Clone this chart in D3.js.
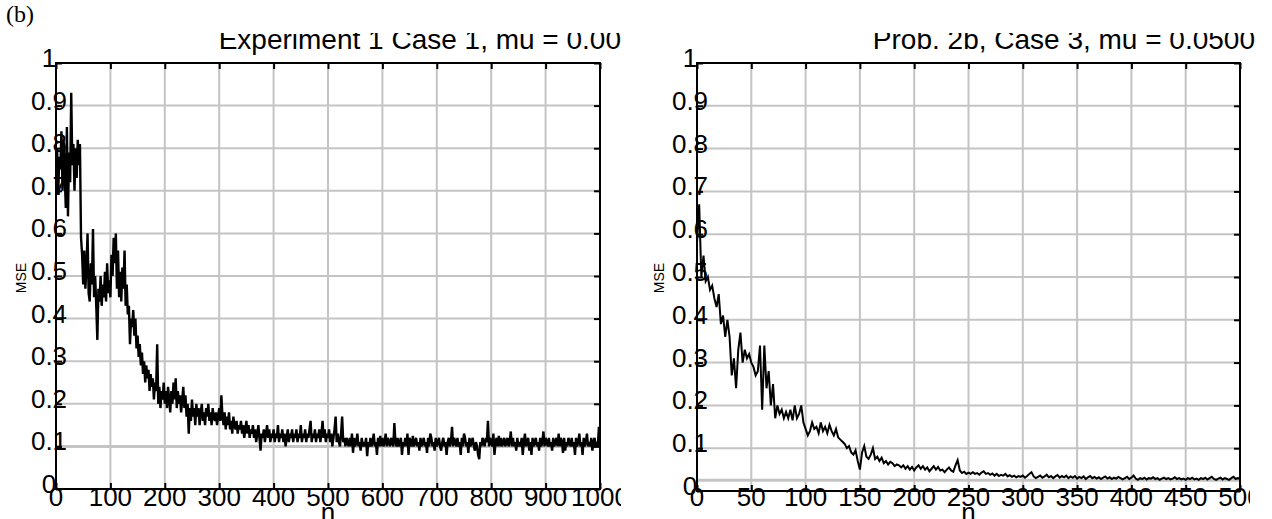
<!DOCTYPE html>
<html><head><meta charset="utf-8">
<script src="https://cdn.jsdelivr.net/npm/d3@7"></script>
<style>
html,body{margin:0;padding:0;background:#fff;}
svg{display:block;}
text{font-family:"Liberation Sans",Arial,Helvetica,sans-serif;fill:#000;}
</style></head><body>
<svg id="chart" width="1272" height="519"></svg>
<script>
// ---- learning-curve data (MSE per iteration n) ----
// Experiment 1, sampled every 2 iterations, n = 0..1000
const leftStep = 2;
const leftMSE = [
0.72,0.80,0.69,0.78,0.75,0.84,0.70,0.82,0.74,0.66,
0.85,0.64,0.79,0.72,0.93,0.76,0.81,0.70,0.80,0.73,
0.82,0.76,0.81,0.59,0.55,0.48,0.56,0.47,0.52,0.60,
0.46,0.44,0.53,0.48,0.61,0.45,0.50,0.43,0.35,0.47,
0.44,0.50,0.43,0.48,0.45,0.51,0.44,0.53,0.46,0.49,
0.45,0.55,0.50,0.59,0.53,0.60,0.47,0.56,0.45,0.51,
0.44,0.52,0.47,0.56,0.43,0.48,0.41,0.43,0.34,0.40,
0.38,0.42,0.36,0.40,0.33,0.36,0.31,0.34,0.29,0.32,
0.27,0.30,0.25,0.29,0.26,0.28,0.23,0.27,0.24,0.26,
0.21,0.25,0.23,0.34,0.20,0.24,0.19,0.23,0.21,0.25,
0.20,0.23,0.19,0.24,0.21,0.18,0.23,0.20,0.25,0.21,
0.26,0.19,0.23,0.20,0.22,0.18,0.21,0.24,0.19,0.22,
0.17,0.20,0.13,0.19,0.16,0.21,0.17,0.19,0.15,0.20,
0.17,0.19,0.15,0.18,0.20,0.16,0.18,0.15,0.19,0.17,
0.20,0.16,0.18,0.15,0.19,0.17,0.16,0.18,0.15,0.17,
0.19,0.16,0.22,0.17,0.15,0.18,0.14,0.17,0.15,0.18,
0.14,0.16,0.13,0.17,0.15,0.14,0.16,0.13,0.15,0.14,
0.16,0.13,0.15,0.12,0.14,0.16,0.13,0.15,0.12,0.14,
0.13,0.15,0.12,0.14,0.11,0.13,0.15,0.12,0.09,0.13,
0.12,0.14,0.11,0.13,0.15,0.12,0.14,0.11,0.13,0.12,
0.14,0.11,0.13,0.12,0.15,0.11,0.13,0.12,0.14,0.11,
0.13,0.10,0.12,0.14,0.11,0.13,0.12,0.14,0.11,0.13,
0.12,0.14,0.11,0.13,0.12,0.15,0.11,0.13,0.12,0.14,
0.11,0.13,0.12,0.14,0.16,0.11,0.13,0.12,0.14,0.11,
0.13,0.12,0.14,0.11,0.13,0.16,0.12,0.14,0.11,0.13,
0.12,0.14,0.11,0.13,0.10,0.12,0.14,0.17,0.11,0.13,
0.11,0.10,0.13,0.17,0.11,0.12,0.10,0.12,0.11,0.10,
0.12,0.10,0.13,0.085,0.12,0.10,0.11,0.13,0.10,0.11,
0.09,0.12,0.10,0.11,0.10,0.12,0.077,0.11,0.10,0.12,
0.10,0.11,0.13,0.10,0.11,0.08,0.12,0.10,0.125,0.10,
0.12,0.10,0.11,0.13,0.10,0.12,0.11,0.10,0.12,0.11,
0.10,0.155,0.11,0.10,0.12,0.10,0.11,0.12,0.08,0.11,
0.10,0.12,0.10,0.13,0.08,0.12,0.11,0.10,0.125,0.10,
0.11,0.12,0.10,0.11,0.09,0.12,0.10,0.11,0.12,0.10,
0.11,0.085,0.12,0.10,0.13,0.12,0.10,0.11,0.09,0.12,
0.10,0.11,0.12,0.10,0.09,0.11,0.12,0.10,0.11,0.08,
0.11,0.12,0.10,0.11,0.146,0.10,0.12,0.11,0.10,0.12,
0.10,0.11,0.08,0.12,0.10,0.13,0.12,0.10,0.11,0.085,
0.12,0.10,0.11,0.12,0.10,0.09,0.11,0.10,0.08,0.07,
0.11,0.10,0.12,0.11,0.10,0.12,0.11,0.16,0.10,0.12,
0.11,0.10,0.13,0.08,0.11,0.12,0.10,0.125,0.10,0.12,
0.10,0.11,0.12,0.10,0.11,0.12,0.10,0.11,0.135,0.10,
0.12,0.10,0.11,0.09,0.12,0.10,0.11,0.10,0.12,0.08,
0.11,0.13,0.10,0.11,0.12,0.09,0.11,0.08,0.12,0.10,
0.11,0.12,0.10,0.11,0.09,0.12,0.10,0.11,0.135,0.10,
0.12,0.11,0.10,0.12,0.10,0.11,0.09,0.12,0.10,0.11,
0.12,0.10,0.13,0.10,0.12,0.11,0.085,0.12,0.09,0.11,
0.10,0.12,0.11,0.10,0.12,0.10,0.11,0.08,0.12,0.10,
0.11,0.13,0.10,0.11,0.08,0.12,0.10,0.11,0.13,0.10,
0.11,0.10,0.12,0.09,0.11,0.12,0.10,0.11,0.10,0.146,
0.12
];

// Prob. 2b, sampled every 2 iterations, n = 0..500
const rightStep = 2;
const rightMSE = [
0.58,0.67,0.50,0.55,0.49,0.50,0.47,0.48,0.45,0.43,
0.46,0.39,0.41,0.36,0.40,0.36,0.27,0.31,0.24,0.33,
0.37,0.30,0.33,0.31,0.32,0.30,0.29,0.27,0.28,0.34,
0.19,0.34,0.24,0.28,0.20,0.25,0.17,0.20,0.18,0.19,
0.17,0.185,0.17,0.19,0.165,0.20,0.17,0.18,0.20,0.16,
0.145,0.13,0.14,0.16,0.145,0.15,0.135,0.16,0.14,0.15,
0.135,0.155,0.14,0.13,0.145,0.125,0.12,0.115,0.11,0.10,
0.105,0.09,0.085,0.095,0.07,0.05,0.09,0.105,0.08,0.075,
0.085,0.10,0.075,0.08,0.07,0.078,0.065,0.07,0.062,0.068,
0.065,0.058,0.062,0.06,0.055,0.06,0.052,0.058,0.05,0.056,
0.048,0.055,0.06,0.052,0.058,0.05,0.055,0.046,0.052,0.058,
0.05,0.056,0.048,0.05,0.044,0.05,0.055,0.048,0.045,0.06,
0.072,0.048,0.042,0.045,0.04,0.043,0.04,0.044,0.04,0.042,
0.038,0.043,0.046,0.04,0.042,0.038,0.041,0.036,0.04,0.035,
0.038,0.036,0.04,0.034,0.037,0.033,0.036,0.032,0.035,0.033,
0.036,0.031,0.035,0.04,0.044,0.034,0.03,0.033,0.036,0.031,
0.034,0.038,0.032,0.035,0.03,0.034,0.037,0.031,0.035,0.032,
0.036,0.03,0.034,0.031,0.035,0.029,0.033,0.03,0.034,0.028,
0.032,0.035,0.03,0.033,0.029,0.032,0.028,0.031,0.034,0.029,
0.032,0.028,0.031,0.029,0.033,0.03,0.027,0.03,0.033,0.028,
0.031,0.036,0.029,0.026,0.03,0.028,0.031,0.027,0.03,0.029,
0.032,0.028,0.03,0.026,0.029,0.031,0.028,0.03,0.027,0.029,
0.032,0.028,0.03,0.027,0.029,0.026,0.03,0.028,0.031,0.027,
0.029,0.026,0.03,0.028,0.031,0.027,0.03,0.033,0.028,0.026,
0.029,0.031,0.027,0.03,0.028,0.026,0.03,0.033,0.028,0.03,
0.029
];

// steady-state MSE reference levels
const leftFloor = 0.1;
const rightFloor = 0.025;

// axis ticks and labels
const leftXTicks = [0,100,200,300,400,500,600,700,800,900,1000];
const leftXLabels = ["0","100","200","300","400","500","600","700","800","900","1000"];
const rightXTicks = [0,50,100,150,200,250,300,350,400,450,500];
const rightXLabels = ["0","50","100","150","200","250","300","350","400","450","500"];
const yTicks = [0,0.1,0.2,0.3,0.4,0.5,0.6,0.7,0.8,0.9,1];
const yLabels = ["0","0.1","0.2","0.3","0.4","0.5","0.6","0.7","0.8","0.9","1"];

const leftTitle = "Experiment 1 Case 1, mu = 0.00";
const rightTitle = "Prob. 2b, Case 3, mu = 0.0500";

// ---- drawing ----
const svg = d3.select("#chart");
svg.append("rect").attr("width",1272).attr("height",519).attr("fill","#fff");

svg.append("text").attr("x",6).attr("y",22)
  .style("font-family",'"Liberation Serif","Times New Roman",serif')
  .style("font-size","24px").text("(b)");

const defs = svg.append("defs");

const panels = [
  {id:"p1", values:leftMSE, step:leftStep, xMax:1000, xTicks:leftXTicks, xLabels:leftXLabels,
   floor:leftFloor, title:leftTitle, left:56, right:600, top:63, bottom:489,
   titleEnd:621, clipLeft:0, clipRight:621, mseX:21, lineWidth:2.4},
  {id:"p2", values:rightMSE, step:rightStep, xMax:500, xTicks:rightXTicks, xLabels:rightXLabels,
   floor:rightFloor, title:rightTitle, left:697, right:1240, top:63, bottom:491,
   titleEnd:1255, clipLeft:630, clipRight:1250, mseX:659, lineWidth:2}
];

panels.forEach(p => {
  const x = d3.scaleLinear().domain([0, p.xMax]).range([p.left, p.right]);
  const y = d3.scaleLinear().domain([0, 1]).range([p.bottom, p.top]);
  const w = p.right - p.left, h = p.bottom - p.top;
  const g = svg.append("g");

  defs.append("clipPath").attr("id", p.id + "-plot")
    .append("rect").attr("x", p.left).attr("y", p.top).attr("width", w).attr("height", h);
  defs.append("clipPath").attr("id", p.id + "-labels")
    .append("rect").attr("x", p.clipLeft).attr("y", 0).attr("width", p.clipRight - p.clipLeft).attr("height", 519);
  defs.append("clipPath").attr("id", p.id + "-title")
    .append("rect").attr("x", p.clipLeft).attr("y", 33).attr("width", 1272).attr("height", 40);

  // grid
  const grid = g.append("g").attr("stroke", "#c4c4c4").attr("stroke-width", 2);
  grid.selectAll("line.v").data(p.xTicks).join("line")
    .attr("x1", d => x(d)).attr("x2", d => x(d)).attr("y1", p.top).attr("y2", p.bottom);
  grid.selectAll("line.h").data(yTicks).join("line")
    .attr("x1", p.left).attr("x2", p.right).attr("y1", d => y(d)).attr("y2", d => y(d));

  // steady-state reference line
  g.append("line").attr("x1", p.left).attr("x2", p.right)
    .attr("y1", y(p.floor)).attr("y2", y(p.floor))
    .attr("stroke", "#c4c4c4").attr("stroke-width", 3);

  // learning curve
  const line = d3.line().x((d, i) => x(i * p.step)).y(d => y(d));
  g.append("path").datum(p.values)
    .attr("clip-path", `url(#${p.id}-plot)`)
    .attr("fill", "none").attr("stroke", "#000").attr("stroke-width", p.lineWidth)
    .attr("stroke-linejoin", "miter").attr("d", line);

  // inward tick marks on all four sides
  const tickLen = 6;
  g.append("g").attr("transform", `translate(0,${p.top})`)
    .call(d3.axisBottom(x).tickValues(p.xTicks).tickSize(tickLen).tickFormat(""));
  g.append("g").attr("transform", `translate(0,${p.bottom})`)
    .call(d3.axisTop(x).tickValues(p.xTicks).tickSize(tickLen).tickFormat(""));
  g.append("g").attr("transform", `translate(${p.left},0)`)
    .call(d3.axisRight(y).tickValues(yTicks).tickSize(tickLen).tickFormat(""));
  g.append("g").attr("transform", `translate(${p.right},0)`)
    .call(d3.axisLeft(y).tickValues(yTicks).tickSize(tickLen).tickFormat(""));
  g.selectAll(".domain").remove();
  g.selectAll(".tick line").attr("stroke", "#000").attr("stroke-width", 2);

  // plot box
  g.append("rect").attr("x", p.left).attr("y", p.top).attr("width", w).attr("height", h)
    .attr("fill", "none").attr("stroke", "#000").attr("stroke-width", 2);

  // y tick labels
  g.append("g").selectAll("text").data(yTicks).join("text")
    .attr("x", p.left - 7).attr("y", d => y(d) + 4)
    .attr("text-anchor", "middle").style("font-size", "26px")
    .text((d, i) => yLabels[i]);

  // x tick labels
  g.append("g").attr("clip-path", `url(#${p.id}-labels)`)
    .selectAll("text").data(p.xTicks).join("text")
    .attr("x", d => x(d)).attr("y", 506)
    .attr("text-anchor", "middle").style("font-size", "26px")
    .text((d, i) => p.xLabels[i]);

  // title
  g.append("text").attr("clip-path", `url(#${p.id}-title)`)
    .attr("x", p.titleEnd).attr("y", 49).attr("text-anchor", "end")
    .style("font-size", "28px").text(p.title);

  // axis names
  g.append("text").attr("transform", `translate(${p.mseX + 5},278) rotate(-90)`)
    .attr("text-anchor", "middle").style("font-size", "14px").text("MSE");
  g.append("text").attr("x", (p.left + p.right) / 2).attr("y", 521)
    .attr("text-anchor", "middle").style("font-size", "26px").text("n");
});
</script>
</body></html>
